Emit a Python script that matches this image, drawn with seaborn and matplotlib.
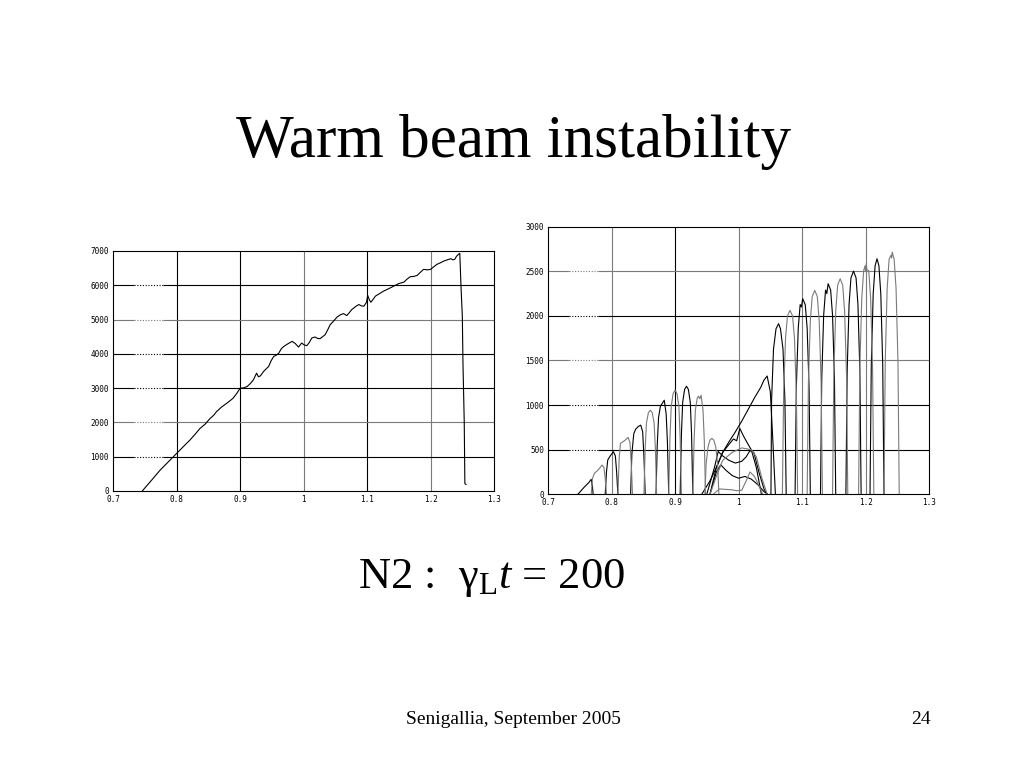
import pandas as pd
import seaborn as sns
import matplotlib.pyplot as plt


TITLE = "Warm beam instability"
CAPTION = r"N2 :  $\mathrm{\gamma}_{\mathrm{L}}\mathit{t}$ = 200"
FOOTER = "Senigallia, September 2005"
PAGE = "24"

X_TICKS = [0.7, 0.8, 0.9, 1.0, 1.1, 1.2, 1.3]
X_TICK_LABELS = ["0.7", "0.8", "0.9", "1", "1.1", "1.2", "1.3"]
LEFT_Y_TICKS = [0, 1000, 2000, 3000, 4000, 5000, 6000, 7000]
RIGHT_Y_TICKS = [0, 500, 1000, 1500, 2000, 2500, 3000]

# left panel: one growing curve
LEFT_X = [
    0.746, 0.760, 0.774, 0.787, 0.800, 0.811, 0.821, 0.829, 0.837, 0.845,
    0.853, 0.858, 0.863, 0.871, 0.879, 0.884, 0.889, 0.895, 0.900, 0.906,
    0.911, 0.916, 0.921, 0.926, 0.929, 0.932, 0.937, 0.941, 0.945, 0.949,
    0.953, 0.957, 0.961, 0.965, 0.969, 0.975, 0.982, 0.987, 0.992, 0.997,
    1.001, 1.005, 1.009, 1.013, 1.018, 1.022, 1.026, 1.030, 1.034, 1.038,
    1.042, 1.047, 1.053, 1.058, 1.063, 1.068, 1.072, 1.076, 1.082, 1.087,
    1.091, 1.095, 1.099, 1.101, 1.104, 1.106, 1.110, 1.113, 1.119, 1.126,
    1.134, 1.142, 1.150, 1.158, 1.163, 1.168, 1.174, 1.179, 1.184, 1.189,
    1.195, 1.200, 1.205, 1.210, 1.216, 1.221, 1.226, 1.232, 1.235, 1.238,
    1.241, 1.244, 1.246, 1.248, 1.250, 1.251, 1.253, 1.254, 1.256,
]
LEFT_Y = [
    0, 300, 605, 850, 1093, 1300, 1484, 1650, 1826, 1950,
    2119, 2200, 2314, 2450, 2558, 2630, 2704, 2850, 2997, 3010,
    3046, 3130, 3241, 3436, 3330, 3358, 3485, 3560, 3632, 3800,
    3925, 3960, 4022, 4150, 4218, 4290, 4364, 4300, 4198, 4315,
    4260, 4237, 4330, 4462, 4491, 4450, 4442, 4500, 4559, 4700,
    4852, 4950, 5077, 5140, 5174, 5116, 5200, 5292, 5380, 5438,
    5400, 5389, 5500, 5702, 5560, 5506, 5600, 5682, 5750, 5829,
    5900, 5975, 6050, 6092, 6180, 6249, 6260, 6288, 6380, 6464,
    6450, 6464, 6540, 6610, 6660, 6708, 6740, 6776, 6740, 6756,
    6850, 6903, 6932, 5926, 5096, 3729, 2021, 215, 185,
]

# right panel: one hump per mode, read point by point
HUMP_X = [
    [0.747, 0.757, 0.764, 0.768, 0.770, 0.771],
    [0.768, 0.770, 0.773, 0.777, 0.781, 0.785, 0.788, 0.790, 0.792],
    [0.790, 0.792, 0.794, 0.797, 0.800, 0.803, 0.806, 0.808, 0.810],
    [0.810, 0.812, 0.814, 0.818, 0.822, 0.826, 0.829, 0.831, 0.833],
    [0.830, 0.832, 0.835, 0.838, 0.842, 0.846, 0.849, 0.851, 0.853],
    [0.851, 0.853, 0.855, 0.858, 0.861, 0.864, 0.867, 0.869, 0.871],
    [0.870, 0.872, 0.874, 0.877, 0.880, 0.883, 0.886, 0.888, 0.890],
    [0.890, 0.892, 0.894, 0.897, 0.900, 0.903, 0.906, 0.908, 0.910],
    [0.908, 0.910, 0.912, 0.915, 0.918, 0.921, 0.924, 0.926, 0.928],
    [0.928, 0.930, 0.932, 0.935, 0.937, 0.939, 0.941, 0.944, 0.946, 0.948],
    [0.947, 0.949, 0.952, 0.955, 0.958, 0.961, 0.964, 0.967, 0.969],
    [0.955, 0.965, 0.975, 0.985, 0.992, 0.997, 1.002, 1.008, 1.015, 1.020, 1.028, 1.036],
    [0.950, 0.962, 0.968, 0.975, 0.985, 0.995, 1.005, 1.012, 1.018, 1.024, 1.032, 1.040, 1.045],
    [0.955, 0.965, 0.972, 0.980, 0.990, 1.000, 1.010, 1.020, 1.030, 1.040, 1.046],
    [0.960, 0.970, 0.980, 0.990, 0.997, 1.005, 1.012, 1.018, 1.025, 1.032, 1.038],
    [0.955, 0.965, 0.975, 0.990, 1.005, 1.020, 1.028, 1.036, 1.045],
    [0.942, 0.955, 0.965, 0.975, 0.985, 0.995, 1.005, 1.015, 1.025, 1.035, 1.040, 1.045, 1.050, 1.054, 1.058],
    [1.051, 1.052, 1.055, 1.059, 1.063, 1.066, 1.070, 1.073, 1.075],
    [1.069, 1.071, 1.074, 1.077, 1.081, 1.085, 1.088, 1.091, 1.093],
    [1.089, 1.091, 1.094, 1.097, 1.099, 1.101, 1.105, 1.108, 1.111, 1.113],
    [1.108, 1.110, 1.113, 1.116, 1.120, 1.124, 1.127, 1.130, 1.132],
    [1.129, 1.131, 1.134, 1.137, 1.139, 1.141, 1.145, 1.148, 1.151, 1.153],
    [1.148, 1.150, 1.153, 1.156, 1.160, 1.164, 1.167, 1.170, 1.172],
    [1.169, 1.171, 1.174, 1.177, 1.181, 1.185, 1.188, 1.191, 1.193],
    [1.189, 1.191, 1.194, 1.197, 1.199, 1.200, 1.201, 1.202, 1.205, 1.208, 1.211, 1.213],
    [1.207, 1.209, 1.212, 1.215, 1.218, 1.221, 1.224, 1.227, 1.229],
    [1.229, 1.231, 1.234, 1.237, 1.240, 1.241, 1.242, 1.245, 1.248, 1.251, 1.253],
]
HUMP_Y = [
    [0, 80, 130, 168, 80, 0],
    [0, 180, 235, 260, 290, 328, 300, 180, 0],
    [0, 250, 384, 420, 450, 477, 430, 250, 0],
    [0, 400, 571, 590, 610, 638, 580, 350, 0],
    [0, 450, 680, 730, 760, 775, 700, 420, 0],
    [0, 520, 800, 915, 943, 915, 800, 520, 0],
    [0, 560, 860, 990, 1020, 1055, 900, 580, 0],
    [0, 640, 990, 1130, 1167, 1130, 990, 640, 0],
    [0, 670, 1030, 1175, 1212, 1175, 1030, 670, 0],
    [0, 610, 945, 1080, 1100, 1070, 1111, 945, 610, 0],
    [0, 345, 533, 608, 627, 608, 533, 345, 0],
    [0, 300, 470, 560, 620, 600, 738, 650, 560, 500, 300, 0],
    [0, 300, 480, 430, 380, 350, 370, 420, 490, 470, 250, 60, 0],
    [0, 250, 330, 270, 210, 180, 200, 170, 110, 30, 0],
    [0, 60, 55, 50, 40, 45, 150, 250, 200, 100, 0],
    [0, 200, 380, 470, 520, 500, 420, 200, 0],
    [0, 150, 300, 470, 590, 700, 820, 950, 1080, 1200, 1280, 1326, 1150, 600, 0],
    [0, 1052, 1626, 1856, 1913, 1856, 1626, 1052, 0],
    [0, 1134, 1753, 2000, 2062, 2000, 1753, 1134, 0],
    [0, 1206, 1864, 2127, 2100, 2193, 2127, 1864, 1206, 0],
    [0, 1257, 1943, 2217, 2286, 2217, 1943, 1257, 0],
    [0, 1299, 2007, 2290, 2250, 2361, 2290, 2007, 1299, 0],
    [0, 1329, 2054, 2344, 2417, 2344, 2054, 1329, 0],
    [0, 1376, 2127, 2427, 2502, 2427, 2127, 1376, 0],
    [0, 1422, 2197, 2507, 2560, 2500, 2585, 2520, 2507, 2197, 1422, 0],
    [0, 1453, 2245, 2562, 2641, 2562, 2245, 1453, 0],
    [0, 1493, 2308, 2634, 2680, 2650, 2715, 2634, 2308, 1493, 0],
]
HUMP_SHADE = [
    "dark", "light", "dark", "light", "dark", "light", "dark", "light", "dark",
    "light", "light", "dark", "dark", "dark", "light", "light", "dark",
    "dark", "light", "dark", "light", "dark", "light", "dark", "light",
    "dark", "light",
]

SHADE_COLORS = {"dark": "#000000", "light": "#7a7a7a"}

# grid line shades as the old plotter drew them (inner lines only)
LEFT_VGRID = ["dark", "dark", "light", "dark", "light"]
LEFT_HGRID = ["dark", "light", "dark", "dark", "light", "dark"]
RIGHT_VGRID = ["light", "dark", "light", "light", "light"]
RIGHT_HGRID = ["dark", "dark", "light", "dark", "light"]
DOT_FROM, DOT_TO = 0.733, 0.779


def build_hump_frame():
    rows = []
    for i, (xs, ys) in enumerate(zip(HUMP_X, HUMP_Y)):
        for x, y in zip(xs, ys):
            rows.append({"hump": i, "shade": HUMP_SHADE[i], "x": x, "y": y})
    return pd.DataFrame(rows)


def draw_grid(ax, y_ticks, v_shades, h_shades):
    y0, y1 = y_ticks[0], y_ticks[-1]
    for x, shade in zip(X_TICKS[1:-1], v_shades):
        ax.vlines(x, y0, y1, color=SHADE_COLORS[shade], linewidth=0.8, zorder=0.5)
    for y, shade in zip(y_ticks[1:-1], h_shades):
        c = SHADE_COLORS[shade]
        ax.hlines(y, X_TICKS[0], DOT_FROM, color=c, linewidth=0.8, zorder=0.5)
        ax.hlines(y, DOT_FROM, DOT_TO, color=c, linewidth=0.8,
                  linestyles=(0, (1, 1.5)), zorder=0.5)
        ax.hlines(y, DOT_TO, X_TICKS[-1], color=c, linewidth=0.8, zorder=0.5)


def style_axes(ax, y_ticks):
    ax.set_xlim(X_TICKS[0], X_TICKS[-1])
    ax.set_ylim(y_ticks[0], y_ticks[-1])
    ax.set_xticks(X_TICKS)
    ax.set_xticklabels(X_TICK_LABELS)
    ax.set_yticks(y_ticks)
    ax.set_yticklabels([str(v) for v in y_ticks])
    ax.set_xlabel("")
    ax.set_ylabel("")
    ax.grid(False)
    ax.tick_params(length=0, labelsize=5.5, pad=3, colors="black")
    for label in ax.get_xticklabels() + ax.get_yticklabels():
        label.set_family("DejaVu Sans Mono")
    for spine in ax.spines.values():
        spine.set_visible(True)
        spine.set_color("black")
        spine.set_linewidth(0.8)


def main():
    sns.set_theme(style="white")
    plt.rcParams["font.family"] = ["Liberation Serif", "DejaVu Serif"]
    plt.rcParams["text.color"] = "black"
    plt.rcParams["mathtext.fontset"] = "custom"
    plt.rcParams["mathtext.rm"] = "Liberation Serif"
    plt.rcParams["mathtext.it"] = "Liberation Serif:italic"

    fig = plt.figure(figsize=(10.24, 7.68), dpi=100)
    fig.patch.set_facecolor("white")

    ax_left = fig.add_axes([0.1104, 0.3607, 0.3721, 0.3125])
    ax_right = fig.add_axes([0.5352, 0.3564, 0.3721, 0.3484])

    draw_grid(ax_left, LEFT_Y_TICKS, LEFT_VGRID, LEFT_HGRID)
    sns.lineplot(x=LEFT_X, y=LEFT_Y, sort=False, estimator=None,
                 color="black", linewidth=0.8, ax=ax_left)
    style_axes(ax_left, LEFT_Y_TICKS)

    draw_grid(ax_right, RIGHT_Y_TICKS, RIGHT_VGRID, RIGHT_HGRID)
    humps = build_hump_frame()
    sns.lineplot(data=humps, x="x", y="y", units="hump", hue="shade",
                 palette=SHADE_COLORS, estimator=None, sort=False,
                 linewidth=0.8, legend=False, ax=ax_right)
    style_axes(ax_right, RIGHT_Y_TICKS)

    fig.text(0.5015, 0.7956, TITLE, ha="center", va="baseline", fontsize=44)
    fig.text(0.4795, 0.2344, CAPTION, ha="center", va="baseline", fontsize=32)
    fig.text(0.5015, 0.0573, FOOTER, ha="center", va="baseline", fontsize=14)
    fig.text(0.9085, 0.0573, PAGE, ha="right", va="baseline", fontsize=14)

    fig.savefig("out.png", dpi=100, facecolor="white")
    plt.close(fig)


if __name__ == "__main__":
    main()
